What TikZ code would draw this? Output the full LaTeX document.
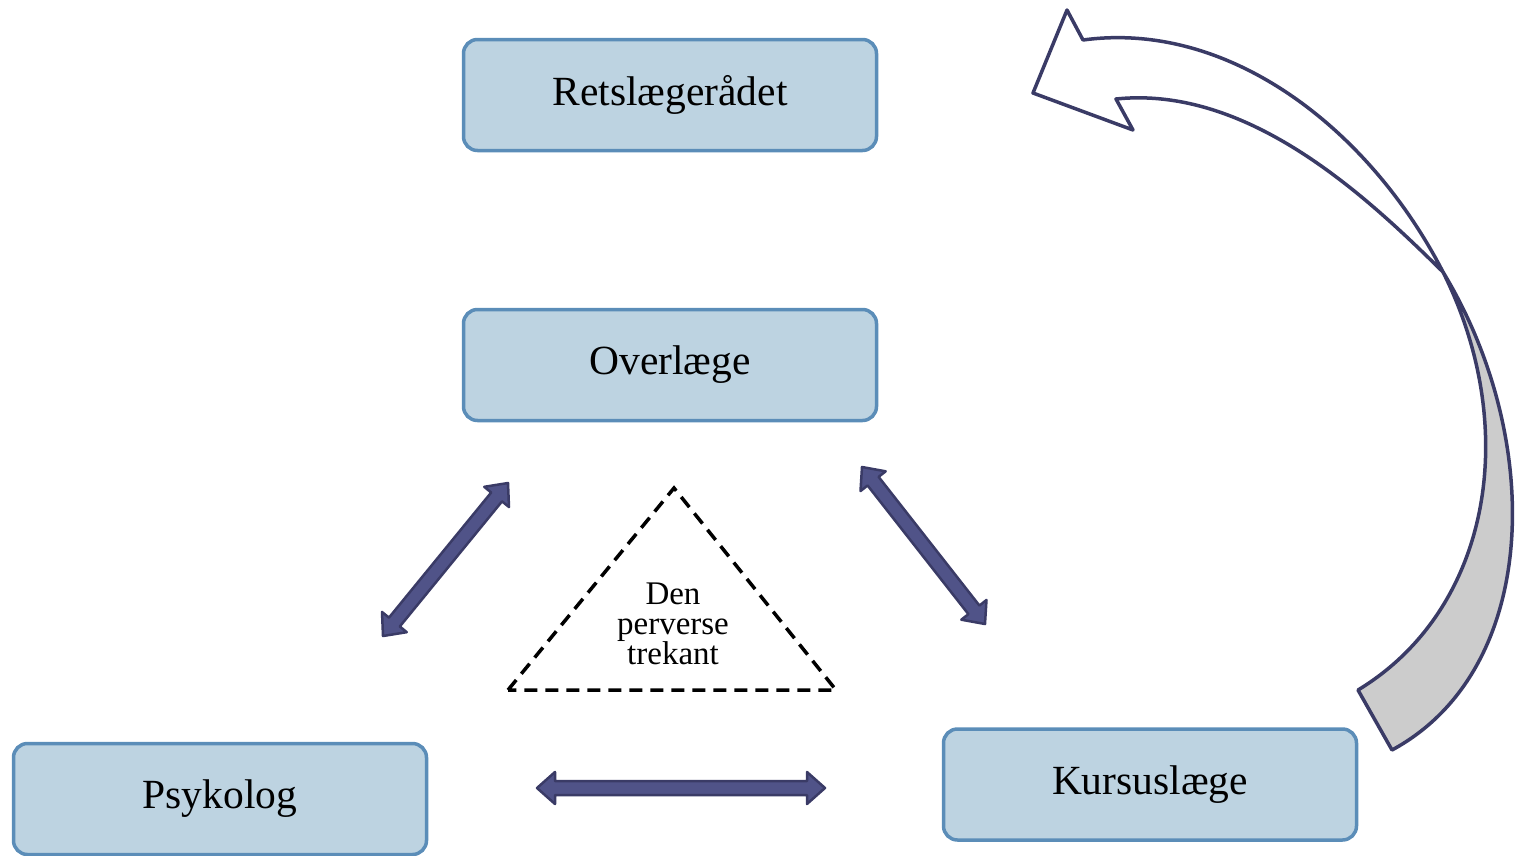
\documentclass[tikz,border=0pt]{standalone}
\usepackage{fontspec}
\setmainfont{Liberation Serif}
\usetikzlibrary{calc}
\definecolor{boxfill}{HTML}{BDD3E1}
\definecolor{boxline}{HTML}{5B8DB8}
\definecolor{arrfill}{HTML}{505388}
\definecolor{arrline}{HTML}{3A3B66}
\definecolor{curvefill}{HTML}{CCCCCC}
\tikzset{
  box/.style={rectangle, rounded corners=14pt, draw=boxline, fill=boxfill, line width=3.5pt,
    minimum width=413pt, minimum height=111pt, inner sep=0pt,
    font=\fontsize{41.5}{44}\selectfont},
  blockarr/.style={draw=arrline, fill=arrfill, line width=2.5pt, line join=round},
  curvearr/.style={draw=arrline, line width=3.5pt, line join=round},
  tri/.style={draw=black, line width=3.5pt, dash pattern=on 13pt off 8pt},
  trilabel/.style={align=center, font=\fontsize{33}{30}\selectfont, inner sep=0pt}
}
\newcommand\blockarrow[3]{%
  \coordinate (#1HA) at ($(#2)!18pt!(#3)$);
  \coordinate (#1HB) at ($(#3)!18pt!(#2)$);
  \draw[blockarr] (#2) -- ($(#1HA)!16pt!90:(#3)$) -- ($(#1HA)!7pt!90:(#3)$)
    -- ($(#1HB)!7pt!-90:(#2)$) -- ($(#1HB)!16pt!-90:(#2)$) -- (#3)
    -- ($(#1HB)!16pt!90:(#2)$) -- ($(#1HB)!7pt!90:(#2)$)
    -- ($(#1HA)!7pt!-90:(#3)$) -- ($(#1HA)!16pt!-90:(#3)$) -- cycle;
}
\begin{document}
\begin{tikzpicture}[x=1pt,y=-1pt]
\useasboundingbox (0,0) rectangle (1519,855);

% boxes
\node[box] (ret) at (670,95) {Retslægerådet};
\node[box] (over) at (670,365) {Overlæge};
\node[box] (psyk) at (220,799) {Psykolog};
\node[box] (kurs) at (1150,784.5) {Kursuslæge};

% triangle
\coordinate (ta) at (674,488);
\coordinate (tl) at (508,690);
\coordinate (tr) at (836,690);
\draw[tri] (tl) -- (ta) -- (tr) -- cycle;
\node[trilabel] (trilab) at (673,624) {Den\\perverse\\trekant};

% block double arrows
\coordinate (la) at (383,636);
\coordinate (lb) at (508,483);
\blockarrow{left}{la}{lb}
\coordinate (ra) at (862,467);
\coordinate (rb) at (985,624);
\blockarrow{right}{ra}{rb}
\coordinate (ha) at (537,788);
\coordinate (hb) at (825,788);
\blockarrow{horiz}{ha}{hb}

% curved arrow
\coordinate (X) at (1443,272);
\coordinate (n1) at (1083,40);
\coordinate (b1) at (1067,10);
\coordinate (tip) at (1033,93);
\coordinate (b2) at (1133,130);
\coordinate (n2) at (1116,99);
\coordinate (e1) at (1392,750);
\coordinate (e2) at (1358,690);
\draw[curvearr, fill=curvefill] (X) .. controls (1545,440) and (1540,670) .. (e1)
  -- (e2) .. controls (1490,610) and (1522,430) .. (X) -- cycle;
\draw[curvearr, fill=white] (X) .. controls (1370,130) and (1230,20) .. (n1)
  -- (b1) -- (tip) -- (b2) -- (n2) .. controls (1250,85) and (1370,200) .. (X);
\end{tikzpicture}
\end{document}
